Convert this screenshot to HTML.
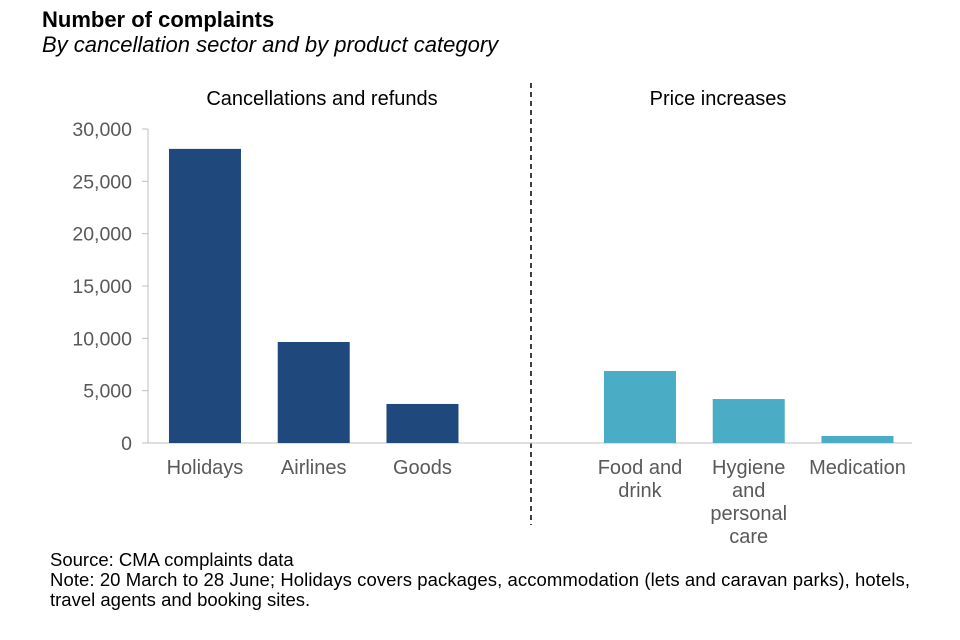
<!DOCTYPE html>
<html><head><meta charset="utf-8"><style>
body{margin:0;background:#fff;font-family:"Liberation Sans",Arial,sans-serif;}
svg{display:block}
</style></head><body>
<svg width="960" height="640" viewBox="0 0 960 640" id="chart">
<text x="42" y="27" font-size="22" font-weight="bold" fill="#000">Number of complaints</text>
<text x="42" y="52" font-size="22" font-style="italic" fill="#000">By cancellation sector and by product category</text>
<text x="322" y="105" font-size="20" text-anchor="middle" fill="#000">Cancellations and refunds</text>
<text x="718" y="105" font-size="20" text-anchor="middle" fill="#000">Price increases</text>
<line x1="531" y1="83" x2="531" y2="525" stroke="#000" stroke-width="1.5" stroke-dasharray="5,4"/>
<g id="yaxis"></g>
<g id="bars"></g>
<g id="xlabels"></g>
<text x="50" y="566" font-size="18.5" fill="#000">Source: CMA complaints data</text>
<text x="50" y="586" font-size="18.5" fill="#000" textLength="860" lengthAdjust="spacing">Note: 20 March to 28 June; Holidays covers packages, accommodation (lets and caravan parks), hotels,</text>
<text x="50" y="606" font-size="18.5" fill="#000">travel agents and booking sites.</text>
</svg>
<script>
const categories = [["Holidays"],["Airlines"],["Goods"],[],["Food and","drink"],["Hygiene","and","personal","care"],["Medication"]];
const values = [28100, 9650, 3730, null, 6880, 4200, 670];
const groups = ["dark","dark","dark",null,"light","light","light"];
const yTicks = [0,5000,10000,15000,20000,25000,30000];
const yTickLabels = ["0","5,000","10,000","15,000","20,000","25,000","30,000"];

const NS="http://www.w3.org/2000/svg";
const x0=150.6, slot=108.75, y0=443, yMax=30000, yTop=129, barW=72;
const y=v=>y0-(v/yMax)*(y0-yTop);
const xc=i=>x0+(i+0.5)*slot;
function mk(tag,attrs,parent){const e=document.createElementNS(NS,tag);for(const k in attrs)e.setAttribute(k,attrs[k]);parent.appendChild(e);return e;}
const ya=document.getElementById('yaxis');
yTicks.forEach((t,i)=>{
  const tx=mk('text',{x:132,y:y(t)+7,'font-size':19.5,'text-anchor':'end',fill:'#595959'},ya);
  tx.textContent=yTickLabels[i];
  
  
  const tk=mk('line',{x1:142,x2:148,y1:y(t),y2:y(t),stroke:'#bfbfbf'},ya);
  
  
});
const ax=mk('line',{x1:148,x2:148,y1:yTop,y2:y0,stroke:'#bfbfbf'},ya);


const xl=mk('line',{x1:148,x2:912,y1:y0,y2:y0,stroke:'#bfbfbf'},ya);


const bg=document.getElementById('bars'), lg=document.getElementById('xlabels');
values.forEach((v,i)=>{
  if(v!==null){
    const r=mk('rect',{x:xc(i)-barW/2,y:y(v),width:barW,height:y0-y(v),fill:groups[i]==='dark'?'#1f497d':'#4bacc6'},bg);
    
    
  }
  categories[i].forEach((line,j)=>{
    const t=mk('text',{x:xc(i),y:474+j*23,'font-size':20,'text-anchor':'middle',fill:'#595959'},lg);
    t.textContent=line;
    
    
  });
});
</script>
</body></html>
